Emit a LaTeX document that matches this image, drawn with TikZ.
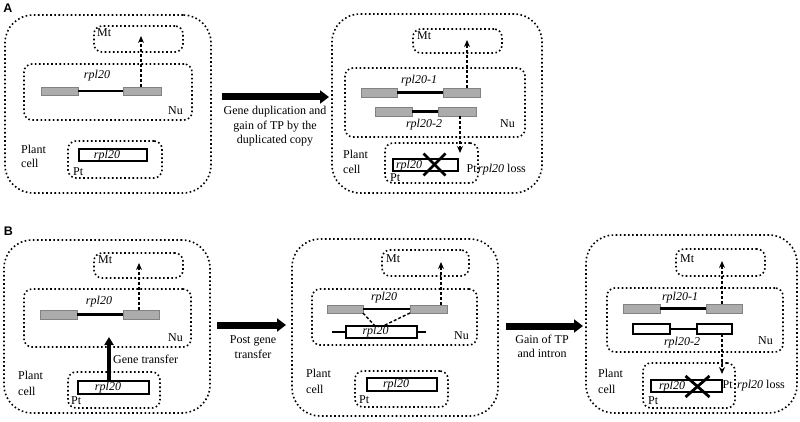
\documentclass[tikz,border=0pt]{standalone}
\usepackage{fontspec}
\setmainfont{Liberation Serif}
\setsansfont{Liberation Sans}
\usetikzlibrary{arrows.meta,calc}
\definecolor{exongray}{RGB}{172,172,172}
\definecolor{exonedge}{RGB}{130,130,130}
\tikzset{
 dotline/.style={draw=black, line width=1.6pt, dash pattern=on 1.6pt off 2.5pt},
 cellbox/.style={dotline, rounded corners=28pt, inner sep=0pt, outer sep=0pt},
 orgbox/.style={dotline, rounded corners=8pt, inner sep=0pt, outer sep=0pt},
 exon/.style={draw=exonedge, fill=exongray, line width=0.8pt, inner sep=0pt, outer sep=0pt},
 wexon/.style={draw=black, fill=white, line width=1.4pt, inner sep=0pt, outer sep=0pt},
 intron/.style={line width=2.4pt},
 dasharrow/.style={line width=1.4pt, dash pattern=on 3pt off 2pt, -{Stealth[length=7pt,width=6pt]}},
 dashline/.style={line width=1.4pt, dash pattern=on 3pt off 2pt},
 bigarrow/.style={line width=7pt, -{Triangle[length=9pt,width=13pt]}},
 midarrow/.style={line width=4pt, -{Triangle[length=8pt,width=9pt]}},
 lbl/.style={inner sep=0pt, font=\fontsize{12}{15}\selectfont},
 gname/.style={inner sep=0pt, font=\fontsize{12}{15}\selectfont\itshape},
 panel/.style={inner sep=0pt, font=\fontsize{12.5}{15}\selectfont\sffamily\bfseries},
 xmark/.style={line width=2.8pt},
}
\begin{document}
\begin{tikzpicture}[x=1pt,y=-1pt]
\useasboundingbox (0,0) rectangle (800,422);

% ================= Panel A =================
\node[panel] (labA) at (8,8) {A};

% ---- cell A1
\node[cellbox, minimum width=206pt, minimum height=178pt] (cellA1) at (108,104) {};
\node[orgbox, minimum width=89pt, minimum height=26pt] (mtA1) at (138.5,39) {};
\node[lbl, anchor=base west] (mtlA1) at (97,37) {Mt};
\node[orgbox, minimum width=168pt, minimum height=56pt] (nuA1) at (108,92) {};
\node[lbl, anchor=base east] (nulA1) at (183,115) {Nu};
\node[gname, anchor=base] (gnA1) at (97,79) {rpl20};
\node[exon, minimum width=37pt, minimum height=8pt] (eA1l) at (59.5,91) {};
\node[exon, minimum width=38pt, minimum height=8pt] (eA1r) at (142,91) {};
\draw[intron] (eA1l.east) -- (eA1r.west);
\coordinate (tA1) at (141,36);
\draw[dasharrow] (tA1 |- eA1r.north) -- (tA1);
\node[lbl, anchor=base west] (plA1) at (21,154) {Plant};
\node[lbl, anchor=base west] (ceA1) at (21,168) {cell};
\node[orgbox, minimum width=94pt, minimum height=37pt] (ptA1) at (115,159.5) {};
\node[lbl, anchor=base west] (ptlA1) at (73,176) {Pt};
\node[wexon, minimum width=68pt, minimum height=12pt] (rA1) at (113,155) {};
\node[gname, anchor=base] (rnA1) at (107,158.5) {rpl20};

% ---- arrow A
\coordinate (aAs) at (222,97);
\coordinate (aAe) at (329,97);
\draw[bigarrow] (aAs) -- (aAe);
\node[lbl, anchor=base] (aAt1) at (275,115) {Gene duplication and};
\node[lbl, anchor=base] (aAt2) at (275,129.5) {gain of TP by the};
\node[lbl, anchor=base] (aAt3) at (275,144) {duplicated copy};

% ---- cell A2
\node[cellbox, minimum width=210pt, minimum height=179pt] (cellA2) at (437,103.5) {};
\node[orgbox, minimum width=89pt, minimum height=24pt] (mtA2) at (457.5,41) {};
\node[lbl, anchor=base west] (mtlA2) at (417,40) {Mt};
\node[orgbox, minimum width=180pt, minimum height=69pt] (nuA2) at (435,102.5) {};
\node[lbl, anchor=base east] (nulA2) at (515,128) {Nu};
\node[gname, anchor=base] (gnA2a) at (419,84) {rpl20-1};
\node[exon, minimum width=36pt, minimum height=9pt] (eA2al) at (379,92.5) {};
\node[exon, minimum width=37pt, minimum height=9pt] (eA2ar) at (461.5,92.5) {};
\draw[intron] (eA2al.east) -- (eA2ar.west);
\node[exon, minimum width=37pt, minimum height=9pt] (eA2bl) at (393.5,111.5) {};
\node[exon, minimum width=38pt, minimum height=9pt] (eA2br) at (457,111.5) {};
\draw[intron] (eA2bl.east) -- (eA2br.west);
\node[gname, anchor=base] (gnA2b) at (424,128) {rpl20-2};
\coordinate (tA2) at (467,40);
\draw[dasharrow] (tA2 |- eA2ar.north) -- (tA2);
\node[lbl, anchor=base west] (plA2) at (343,159) {Plant};
\node[lbl, anchor=base west] (ceA2) at (343,174) {cell};
\node[orgbox, minimum width=93pt, minimum height=40pt] (ptA2) at (431.5,163) {};
\coordinate (dA2) at (460,153);
\draw[dasharrow] (dA2 |- eA2br.south) -- (dA2);
\node[lbl, anchor=base west] (ptlA2) at (390,182) {Pt};
\node[wexon, minimum width=65pt, minimum height=12pt] (rA2) at (425.5,165) {};
\node[gname, anchor=base] (rnA2) at (409,168.5) {rpl20};
\coordinate (xA2) at (434.5,164.5);
\draw[xmark] ($(xA2)+(-11,-11)$) -- ($(xA2)+(11,11)$);
\draw[xmark] ($(xA2)+(11,-11)$) -- ($(xA2)+(-11,11)$);
\node[lbl, anchor=base west] (ptrA2) at (466.5,173) {Pt};
\node[lbl, anchor=base west] (lossA2) at (478,173) {\textit{rpl20} loss};

% ================= Panel B =================
\node[panel] (labB) at (8.5,231.5) {B};

% ---- cell B1
\node[cellbox, minimum width=206pt, minimum height=173pt] (cellB1) at (107,326.5) {};
\node[orgbox, minimum width=89pt, minimum height=25pt] (mtB1) at (138.5,265.5) {};
\node[lbl, anchor=base west] (mtlB1) at (98,263) {Mt};
\node[orgbox, minimum width=167pt, minimum height=58pt] (nuB1) at (107.5,318) {};
\node[lbl, anchor=base east] (nulB1) at (183,341) {Nu};
\node[gname, anchor=base] (gnB1) at (99,304) {rpl20};
\node[exon, minimum width=37pt, minimum height=9pt] (eB1l) at (58.5,314.5) {};
\node[exon, minimum width=36pt, minimum height=9pt] (eB1r) at (141,314.5) {};
\draw[intron] (eB1l.east) -- (eB1r.west);
\coordinate (tB1) at (139,263);
\draw[dasharrow] (tB1 |- eB1r.north) -- (tB1);
\node[lbl, anchor=base west] (plB1) at (18,379) {Plant};
\node[lbl, anchor=base west] (ceB1) at (18,395) {cell};
\node[orgbox, minimum width=92pt, minimum height=36pt] (ptB1) at (114,390) {};
\node[lbl, anchor=base west] (ptlB1) at (71,404) {Pt};
\node[wexon, minimum width=71pt, minimum height=13pt] (rB1) at (113.5,387.5) {};
\node[gname, anchor=base] (rnB1) at (108,390.5) {rpl20};
\coordinate (gtB1) at (109,337);
\draw[midarrow] (gtB1 |- rB1.north) -- (gtB1);
\node[lbl, anchor=base west] (gtlB1) at (113,363) {Gene transfer};

% ---- arrow B1
\coordinate (aB1s) at (217,325);
\coordinate (aB1e) at (286,325);
\draw[bigarrow] (aB1s) -- (aB1e);
\node[lbl, anchor=base] (aB1t1) at (253,343) {Post gene};
\node[lbl, anchor=base] (aB1t2) at (253,358) {transfer};

% ---- cell B2
\node[cellbox, minimum width=206pt, minimum height=177pt] (cellB2) at (395,327.5) {};
\node[orgbox, minimum width=87pt, minimum height=26pt] (mtB2) at (425.5,263) {};
\node[lbl, anchor=base west] (mtlB2) at (386,262) {Mt};
\node[orgbox, minimum width=165pt, minimum height=56pt] (nuB2) at (394.5,317) {};
\node[lbl, anchor=base east] (nulB2) at (469,339) {Nu};
\node[gname, anchor=base] (gnB2) at (384,300) {rpl20};
\node[exon, minimum width=36pt, minimum height=8pt] (eB2l) at (345,309) {};
\node[exon, minimum width=37pt, minimum height=8pt] (eB2r) at (428.5,309) {};
\draw[intron] (eB2l.east) -- (eB2r.west);
\node[wexon, minimum width=71pt, minimum height=12pt] (wB2) at (381.5,332) {};
\coordinate (flB2l) at (332,332);
\coordinate (flB2r) at (426,332);
\draw[intron] (flB2l) -- (wB2.west);
\draw[intron] (wB2.east) -- (flB2r);
\coordinate (vB2l) at (375,326);
\coordinate (vB2r) at (383,326);
\draw[dashline] (eB2l.south east) -- (vB2l);
\draw[dashline] (eB2r.south west) -- (vB2r);
\node[gname, anchor=base] (rnwB2) at (375.5,334) {rpl20};
\coordinate (tB2) at (441,262);
\draw[dasharrow] (tB2 |- eB2r.north) -- (tB2);
\node[lbl, anchor=base west] (plB2) at (306,377) {Plant};
\node[lbl, anchor=base west] (ceB2) at (306,393) {cell};
\node[orgbox, minimum width=93pt, minimum height=36pt] (ptB2) at (401.5,389) {};
\node[lbl, anchor=base west] (ptlB2) at (359,403) {Pt};
\node[wexon, minimum width=70pt, minimum height=13pt] (rB2) at (402,384.5) {};
\node[gname, anchor=base] (rnB2) at (396,387) {rpl20};

% ---- arrow B2
\coordinate (aB2s) at (506,326);
\coordinate (aB2e) at (583,326);
\draw[bigarrow] (aB2s) -- (aB2e);
\node[lbl, anchor=base] (aB2t1) at (542,343) {Gain of TP};
\node[lbl, anchor=base] (aB2t2) at (542,357) {and intron};

% ---- cell B3
\node[cellbox, minimum width=211pt, minimum height=178pt] (cellB3) at (691.5,324) {};
\node[orgbox, minimum width=89pt, minimum height=27pt] (mtB3) at (720.5,262.5) {};
\node[lbl, anchor=base west] (mtlB3) at (680,262) {Mt};
\node[orgbox, minimum width=176pt, minimum height=64pt] (nuB3) at (695,320) {};
\node[lbl, anchor=base east] (nulB3) at (773,344) {Nu};
\node[gname, anchor=base] (gnB3a) at (680,300) {rpl20-1};
\node[exon, minimum width=37pt, minimum height=9pt] (eB3al) at (641.5,308.5) {};
\node[exon, minimum width=36pt, minimum height=9pt] (eB3ar) at (724,308.5) {};
\draw[intron] (eB3al.east) -- (eB3ar.west);
\node[wexon, minimum width=37pt, minimum height=10pt] (eB3bl) at (651.5,329) {};
\node[wexon, minimum width=35pt, minimum height=10pt] (eB3br) at (714.5,329) {};
\draw[intron] (eB3bl.east) -- (eB3br.west);
\node[gname, anchor=base] (gnB3b) at (682,345) {rpl20-2};
\coordinate (tB3) at (722,261);
\draw[dasharrow] (tB3 |- eB3ar.north) -- (tB3);
\node[lbl, anchor=base west] (plB3) at (598,377) {Plant};
\node[lbl, anchor=base west] (ceB3) at (598,393) {cell};
\node[orgbox, minimum width=92pt, minimum height=45pt] (ptB3) at (689,385.5) {};
\coordinate (dB3) at (722,374);
\draw[dasharrow] (dB3 |- eB3br.south) -- (dB3);
\node[lbl, anchor=base west] (ptlB3) at (648,404) {Pt};
\node[wexon, minimum width=71pt, minimum height=12pt] (rB3) at (686.5,386) {};
\node[gname, anchor=base] (rnB3) at (672,389) {rpl20};
\coordinate (xB3) at (697.5,386.5);
\draw[xmark] ($(xB3)+(-12,-10.5)$) -- ($(xB3)+(12,10.5)$);
\draw[xmark] ($(xB3)+(12,-10.5)$) -- ($(xB3)+(-12,10.5)$);
\node[lbl, anchor=base west] (ptrB3) at (722.5,388) {Pt};
\node[lbl, anchor=base west] (lossB3) at (737,388) {\textit{rpl20} loss};
\end{tikzpicture}
\end{document}
